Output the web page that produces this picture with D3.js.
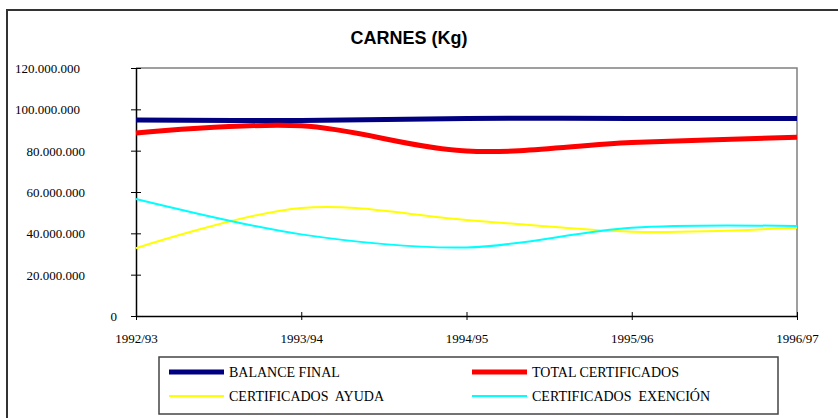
<!DOCTYPE html>
<html>
<head>
<meta charset="utf-8">
<script src="https://cdn.jsdelivr.net/npm/d3@7"></script>
<style>
  html, body { margin: 0; padding: 0; background: #fff; }
  svg { display: block; }
</style>
</head>
<body>
<div class="container"></div>
<script>
// campaigns on the x axis
var categories = ['1992/93', '1993/94', '1994/95', '1995/96', '1996/97'];
// y tick values (kg)
var yTicks = [0, 20000000, 40000000, 60000000, 80000000, 100000000, 120000000];
// series values (kg)
var balanceFinal = [94800000, 94600000, 95600000, 95600000, 95600000];
var totalCertificados = [88500000, 92000000, 79800000, 83900000, 86500000];
var certificadosAyuda = [32800000, 52300000, 46500000, 40800000, 42700000];
var certificadosExencion = [56600000, 39500000, 33200000, 42700000, 43500000];

var seriesNames = ['BALANCE FINAL', 'TOTAL CERTIFICADOS', 'CERTIFICADOS  AYUDA', 'CERTIFICADOS  EXENCIÓN'];

var SERIF = '"Liberation Serif", "Times New Roman", serif';

var drawChart = function () {
    const W = 838, H = 418;
    var left = 136, right = 797, top = 68, bottom = 316;

    var series = [
        { name: seriesNames[0], values: balanceFinal, color: '#000080', width: 5 },
        { name: seriesNames[1], values: totalCertificados, color: '#ff0000', width: 5 },
        { name: seriesNames[2], values: certificadosAyuda, color: '#ffff00', width: 2 },
        { name: seriesNames[3], values: certificadosExencion, color: '#00ffff', width: 2 }
    ];

    var svg = d3.select('.container')
        .append('svg')
        .attr('width', W)
        .attr('height', H);

    // outer frame (only top and left visible inside the window)
    svg.append('rect')
        .attr('x', 7)
        .attr('y', 10)
        .attr('width', 900)
        .attr('height', 500)
        .style('fill', 'none')
        .style('stroke', '#333')
        .style('stroke-width', 2);

    svg.append('text')
        .attr('x', 409)
        .attr('y', 44)
        .attr('text-anchor', 'middle')
        .style('font-family', '"Liberation Sans", Arial, sans-serif')
        .style('font-weight', 'bold')
        .style('font-size', '18px')
        .text('CARNES (Kg)');

    var x = d3.scalePoint().domain(categories).range([left, right]);
    var y = d3.scaleLinear().domain([0, 120000000]).range([bottom, top]);

    // gray plot border top / right
    svg.append('path')
        .attr('d', 'M' + left + ',' + top + 'H' + right + 'V' + bottom)
        .style('fill', 'none')
        .style('stroke', '#808080')
        .style('stroke-width', 1.5);

    var fmt = function (d) {
        return d3.format(',')(d).replace(/,/g, '.');
    };

    var yAxis = svg.append('g')
        .attr('transform', 'translate(' + left + ',0)')
        .call(d3.axisLeft(y).tickValues(yTicks).tickSize(5).tickSizeOuter(0).tickPadding(0).tickFormat(fmt));
    yAxis.select('.domain').style('stroke', '#000').style('stroke-width', 1.5);
    yAxis.selectAll('.tick line').attr('x2', 5).attr('x1', -5).style('stroke', '#000');
    yAxis.selectAll('.tick text')
        .attr('x', function (d) { return d === 0 ? -19 : (d >= 100000000 ? -56 : -51); })
        .attr('dy', '0.35em')
        .style('font-family', SERIF)
        .style('font-size', '13px')
        .style('fill', '#000');

    var xAxis = svg.append('g')
        .attr('transform', 'translate(0,' + bottom + ')')
        .call(d3.axisBottom(x).tickSize(4).tickSizeOuter(0).tickPadding(0));
    xAxis.select('.domain').style('stroke', '#000').style('stroke-width', 1.5);
    xAxis.selectAll('.tick line').attr('y1', -4).attr('y2', 4).style('stroke', '#000');
    xAxis.selectAll('.tick text')
        .attr('y', 27)
        .attr('dy', 0)
        .style('font-family', SERIF)
        .style('font-size', '13px')
        .style('fill', '#000');

    var line = d3.line()
        .x(function (d, i) { return x(categories[i]); })
        .y(function (d) { return y(d); })
        .curve(d3.curveCardinal.tension(0));

    svg.append('g')
        .selectAll('path')
        .data(series)
        .enter()
        .append('path')
        .attr('d', function (s) { return line(s.values); })
        .style('fill', 'none')
        .style('stroke', function (s) { return s.color; })
        .style('stroke-width', function (s) { return s.width; });

    // legend
    var legend = svg.append('g');
    legend.append('rect')
        .attr('x', 159)
        .attr('y', 357)
        .attr('width', 619)
        .attr('height', 57)
        .style('fill', '#fff')
        .style('stroke', '#444')
        .style('stroke-width', 1.5);

    var items = legend.selectAll('g.item')
        .data(series)
        .enter()
        .append('g')
        .attr('transform', function (s, i) {
            return 'translate(' + (i % 2 === 0 ? 169 : 472) + ',' + (i < 2 ? 372 : 396) + ')';
        });
    items.append('line')
        .attr('x1', 0)
        .attr('x2', 55)
        .style('stroke', function (s) { return s.color; })
        .style('stroke-width', function (s) { return s.width; });
    items.append('text')
        .attr('x', 60)
        .attr('dy', '0.35em')
        .style('font-family', SERIF)
        .style('font-size', '14px')
        .style('white-space', 'pre')
        .text(function (s) { return s.name; });
};
window.onload = drawChart;
</script>
</body>
</html>
